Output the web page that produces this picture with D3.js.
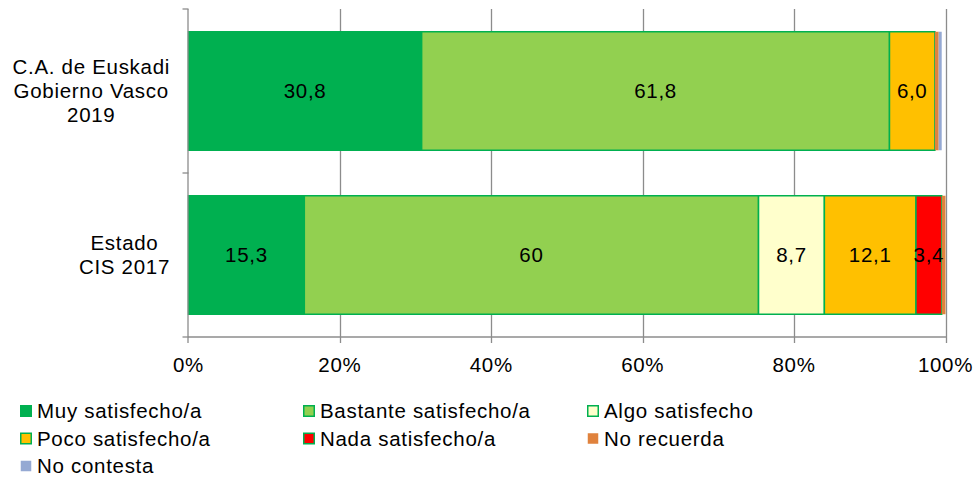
<!DOCTYPE html>
<html>
<head>
<meta charset="utf-8">
<script src="https://cdn.jsdelivr.net/npm/d3@7"></script>
<style>
  html, body { margin: 0; padding: 0; background: #fff; }
  svg { display: block; font-family: "Liberation Sans", Arial, sans-serif; }
</style>
</head>
<body>
<svg id="chart" width="976" height="480"></svg>
<script>
// ---- data ----
const categories = [
  ["C.A. de Euskadi", "Gobierno Vasco", "2019"],
  ["Estado", "CIS 2017"]
];
const seriesNames = ["Muy satisfecho/a", "Bastante satisfecho/a", "Algo satisfecho",
                     "Poco satisfecho/a", "Nada satisfecho/a", "No recuerda", "No contesta"];
const muy       = [30.8, 15.3];
const bastante  = [61.8, 60.0];
const algo      = [0.0, 8.7];
const poco      = [6.0, 12.1];
const nada      = [0.0, 3.4];
const noRecuerda = [0.5, 0.5];
const noContesta = [0.4, 0.0];
// data labels as shown on the chart
const muyLabels      = ["30,8", "15,3"];
const bastanteLabels = ["61,8", "60"];
const algoLabels     = ["", "8,7"];
const pocoLabels     = ["6,0", "12,1"];
const nadaLabels     = ["", "3,4"];
const xTicks = [0, 20, 40, 60, 80, 100];

// ---- style ----
const colors  = ["#00B050", "#92D050", "#FFFFCC", "#FFC000", "#FF0000", "#E0823D", "#95A9D3"];
const bordered = [true, true, true, true, true, false, false];
const borderColor = "#00B050";
const axisColor = "#8c8c8c";
const fontSize = 20.5;
const letterSp = "0.7px";

const seriesValues = [muy, bastante, algo, poco, nada, noRecuerda, noContesta];
const seriesLabels = [muyLabels, bastanteLabels, algoLabels, pocoLabels, nadaLabels, ["", ""], ["", ""]];

const svg = d3.select("#chart");
svg.attr("letter-spacing", letterSp);
const plot = { left: 188.5, right: 945.5, top: 9, bottom: 337 };

const x = d3.scaleLinear().domain([0, 100]).range([plot.left, plot.right]);
const y = d3.scaleBand().domain(d3.range(categories.length))
  .range([plot.top, plot.bottom]).paddingInner(0.2774).paddingOuter(0.1387);

// gridlines (vertical) incl. tick marks below axis
svg.append("g").selectAll("line").data(xTicks.filter(d => d > 0)).join("line")
  .attr("x1", d => Math.round(x(d)) + 0.5).attr("x2", d => Math.round(x(d)) + 0.5)
  .attr("y1", plot.top).attr("y2", plot.bottom + 6)
  .attr("stroke", axisColor).attr("stroke-width", 1.3);

// stacked segments
const rows = categories.map((c, i) => {
  let acc = 0;
  return seriesValues.map((vals, s) => {
    const seg = { s, i, x0: acc, x1: acc + vals[i], label: seriesLabels[s][i] };
    acc += vals[i];
    return seg;
  });
});

const gBars = svg.append("g");
rows.forEach(segs => {
  gBars.selectAll(null).data(segs.filter(d => d.x1 > d.x0)).join("rect")
    .attr("x", d => x(d.x0))
    .attr("y", d => y(d.i))
    .attr("width", d => x(d.x1) - x(d.x0))
    .attr("height", y.bandwidth())
    .attr("fill", d => colors[d.s])
    .attr("stroke", d => bordered[d.s] ? borderColor : "none")
    .attr("stroke-width", 1.5);
});
rows.forEach(segs => {
  gBars.selectAll(null).data(segs.filter(d => d.label)).join("text")
    .attr("x", d => (x(d.x0) + x(d.x1)) / 2)
    .attr("y", d => y(d.i) + y.bandwidth() / 2)
    .attr("dy", "0.35em")
    .attr("text-anchor", "middle")
    .attr("font-size", fontSize)
    .attr("fill", "#000")
    .text(d => d.label);
});

// left axis line + ticks
svg.append("line")
  .attr("x1", plot.left - 0.5).attr("x2", plot.left - 0.5)
  .attr("y1", plot.top).attr("y2", plot.bottom + 6)
  .attr("stroke", axisColor).attr("stroke-width", 1.3);
const catTicks = [plot.top, ...d3.range(1, categories.length).map(i => y.step() * i + plot.top), plot.bottom];
svg.append("g").selectAll("line").data(catTicks).join("line")
  .attr("x1", plot.left - 6).attr("x2", plot.left)
  .attr("y1", d => d).attr("y2", d => d)
  .attr("stroke", axisColor).attr("stroke-width", 1.3);
// bottom axis line
svg.append("line")
  .attr("x1", plot.left - 0.5).attr("x2", plot.right + 0.5)
  .attr("y1", plot.bottom).attr("y2", plot.bottom)
  .attr("stroke", axisColor).attr("stroke-width", 1.3);

// x tick labels
svg.append("g").selectAll("text").data(xTicks).join("text")
  .attr("x", d => x(d)).attr("y", 372)
  .attr("text-anchor", "middle").attr("font-size", fontSize)
  .text(d => d + "%");

// category labels (right-aligned block, centered lines)
const labelRight = 170;
const lineH = 24;
categories.forEach((lines, i) => {
  const g = svg.append("g");
  const cy = y(i) + y.bandwidth() / 2;
  const texts = lines.map((l, k) => g.append("text")
    .attr("y", cy + (k - (lines.length - 1) / 2) * lineH)
    .attr("dy", "0.35em")
    .attr("text-anchor", "middle").attr("font-size", fontSize).text(l));
  const w = d3.max(texts, t => t.node().getComputedTextLength());
  texts.forEach(t => t.attr("x", labelRight - w / 2));
});

// legend
const legCols = [20, 303, 587];
const legRows = [411, 438.5, 466];
const leg = svg.append("g");
seriesNames.forEach((name, s) => {
  const cx = legCols[s % 3], cy = legRows[Math.floor(s / 3)];
  leg.append("rect")
    .attr("x", cx + 0.75).attr("y", cy - 5.25)
    .attr("width", 10.5).attr("height", 10.5)
    .attr("fill", colors[s])
    .attr("stroke", bordered[s] ? borderColor : "none")
    .attr("stroke-width", 1.5);
  leg.append("text")
    .attr("x", cx + 17).attr("y", cy).attr("dy", "0.35em")
    .attr("font-size", fontSize).text(name);
});
</script>
</body>
</html>
